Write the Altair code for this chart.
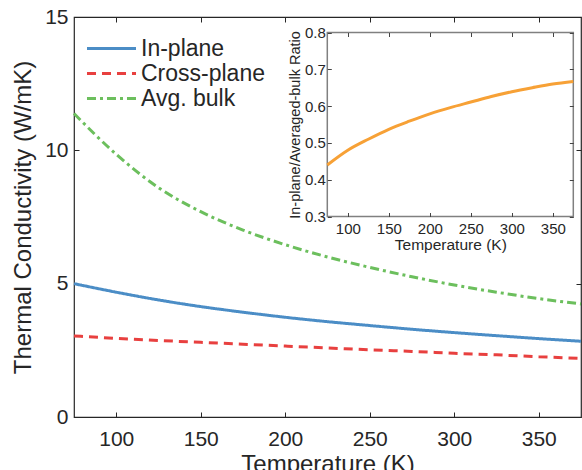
import altair as alt
import pandas as pd

# ---------------- data ----------------
temperature = [75, 100, 125, 150, 175, 200, 225, 250, 275, 300, 325, 350, 375]
in_plane = [5.00, 4.68, 4.39, 4.14, 3.93, 3.74, 3.575, 3.43, 3.29, 3.165, 3.05, 2.94, 2.84]
cross_plane = [3.04, 2.95, 2.87, 2.80, 2.73, 2.66, 2.59, 2.52, 2.46, 2.39, 2.33, 2.26, 2.20]
avg_bulk = [11.38, 9.85, 8.60, 7.70, 7.01, 6.46, 6.00, 5.61, 5.26, 4.95, 4.68, 4.44, 4.24]
ratio = [0.440, 0.480, 0.510, 0.537, 0.559, 0.579, 0.596, 0.611, 0.626, 0.639, 0.650, 0.660, 0.667]

series_names = ["In-plane", "Cross-plane", "Avg. bulk"]
x_ticks = [100, 150, 200, 250, 300, 350]
y_ticks = [0, 5, 10, 15]
inset_y_ticks = [0.3, 0.4, 0.5, 0.6, 0.7, 0.8]
x_domain = [75, 375]
y_domain = [0, 15]
inset_y_domain = [0.3, 0.8]

# ---------------- styling ----------------
series_colors = ["#4b8dc6", "#e8403f", "#6cbf5d"]
series_dashes = [[1, 0], [9, 6], [9, 4, 3, 4]]
ORANGE = "#f7a136"
DARK = "#262626"
INSET_FRAME = "#808080"
FONT = "Liberation Sans"
W, H = 507, 400

main_rows = []
for name, vals in zip(series_names, [in_plane, cross_plane, avg_bulk]):
    for t, v in zip(temperature, vals):
        main_rows.append({"T": t, "k": v, "series": name})
main_df = pd.DataFrame(main_rows)
inset_df = pd.DataFrame({"T": temperature, "ratio": ratio})
frame_df = pd.DataFrame({"x0": [x_domain[0]], "x1": [x_domain[1]],
                         "y0": [inset_y_domain[0]], "y1": [inset_y_domain[1]]})

# ---------------- main plot ----------------
x_main = alt.Scale(domain=x_domain, nice=False, zero=False)
y_main = alt.Scale(domain=y_domain, nice=False, zero=False)

# long horizontal legend stroke (path 3x wider than the nominal symbol size)
legend = alt.Legend(
    title=None, orient="none", legendX=26, legendY=20,
    symbolType="M-3,0H3", symbolSize=267, symbolStrokeWidth=3,
    labelFontSize=23, labelFont=FONT, labelColor=DARK, labelOffset=18,
    rowPadding=1, padding=0,
)

lines = alt.Chart(main_df).mark_line(strokeWidth=3, interpolate="monotone").encode(
    x=alt.X("T:Q", scale=x_main, axis=alt.Axis(
        orient="bottom", offset=-5, tickSize=5, domain=False, values=x_ticks,
        title="Temperature (K)", labelFontSize=21, titleFontSize=24,
        labelPadding=11, titlePadding=3)),
    y=alt.Y("k:Q", scale=y_main, axis=alt.Axis(
        orient="left", offset=-5, tickSize=5, domain=False, values=y_ticks,
        title="Thermal Conductivity (W/mK)", labelFontSize=21, titleFontSize=24,
        labelPadding=6, titlePadding=9)),
    color=alt.Color("series:N", scale=alt.Scale(domain=series_names, range=series_colors),
                    legend=legend),
    strokeDash=alt.StrokeDash("series:N", scale=alt.Scale(domain=series_names, range=series_dashes),
                              legend=legend),
)

main_box = alt.Chart(main_df).mark_point(opacity=0).encode(
    x=alt.X("T:Q", scale=x_main, axis=alt.Axis(
        orient="top", offset=-5, tickSize=5, domain=False, labels=False,
        values=x_ticks, title=None)),
    y=alt.Y("k:Q", scale=y_main, axis=alt.Axis(
        orient="right", offset=-5, tickSize=5, domain=False, labels=False,
        values=y_ticks, title=None)),
)

main = alt.layer(lines, main_box).resolve_axis(x="independent", y="independent")

# ---------------- inset ----------------
IN_L, IN_R, IN_T, IN_B = 253.3, 499.3, 15.5, 199.5
x_in = alt.Scale(domain=x_domain, range=[IN_L, IN_R], nice=False, zero=False)
y_in = alt.Scale(domain=inset_y_domain, range=[IN_B, IN_T], nice=False, zero=False)
T_IN = 4

frame = alt.Chart(frame_df).mark_rect(fill="white", stroke=INSET_FRAME, strokeWidth=1.5).encode(
    x=alt.X("x0:Q", scale=x_in, axis=alt.Axis(
        orient="bottom", offset=-(H - IN_B) - T_IN, tickSize=T_IN, domain=False,
        values=x_ticks, title="Temperature (K)", labelFontSize=15, titleFontSize=15.5,
        labelPadding=5, titlePadding=1, zindex=1, tickColor="#444")),
    x2="x1:Q",
    y=alt.Y("y0:Q", scale=y_in, axis=alt.Axis(
        orient="left", offset=-(IN_L + T_IN), tickSize=T_IN, domain=False,
        values=inset_y_ticks, format=".1f", title="In-plane/Averaged-bulk Ratio",
        labelFontSize=15, titleFontSize=14.5, labelPadding=2, titlePadding=2,
        zindex=1, tickColor="#444")),
    y2="y1:Q",
)

curve = alt.Chart(inset_df).mark_line(color=ORANGE, strokeWidth=3, interpolate="monotone").encode(
    x=alt.X("T:Q", scale=x_in, axis=alt.Axis(
        orient="top", offset=-(IN_T + T_IN), tickSize=T_IN, domain=False, labels=False,
        values=x_ticks, title=None, zindex=1, tickColor="#444")),
    y=alt.Y("ratio:Q", scale=y_in, axis=alt.Axis(
        orient="right", offset=-(W - IN_R + T_IN), tickSize=T_IN, domain=False, labels=False,
        values=inset_y_ticks, title=None, zindex=1, tickColor="#444")),
)

inset = alt.layer(frame, curve).resolve_axis(x="independent", y="independent")

chart = (
    alt.layer(main, inset)
    .resolve_scale(x="independent", y="independent")
    .properties(
        width=W, height=H,
        padding={"left": 74, "top": 17, "right": 1, "bottom": 53},
        autosize=alt.AutoSizeParams(type="none"),
    )
    .configure(font=FONT)
    .configure_view(stroke=DARK, strokeWidth=1.2)
    .configure_axis(
        grid=False, labelColor=DARK, titleColor=DARK, tickColor=DARK,
        titleFontWeight="normal", labelFont=FONT, titleFont=FONT, tickWidth=1,
    )
)

chart.save("out.html", embed_options={"renderer": "svg", "actions": False})
